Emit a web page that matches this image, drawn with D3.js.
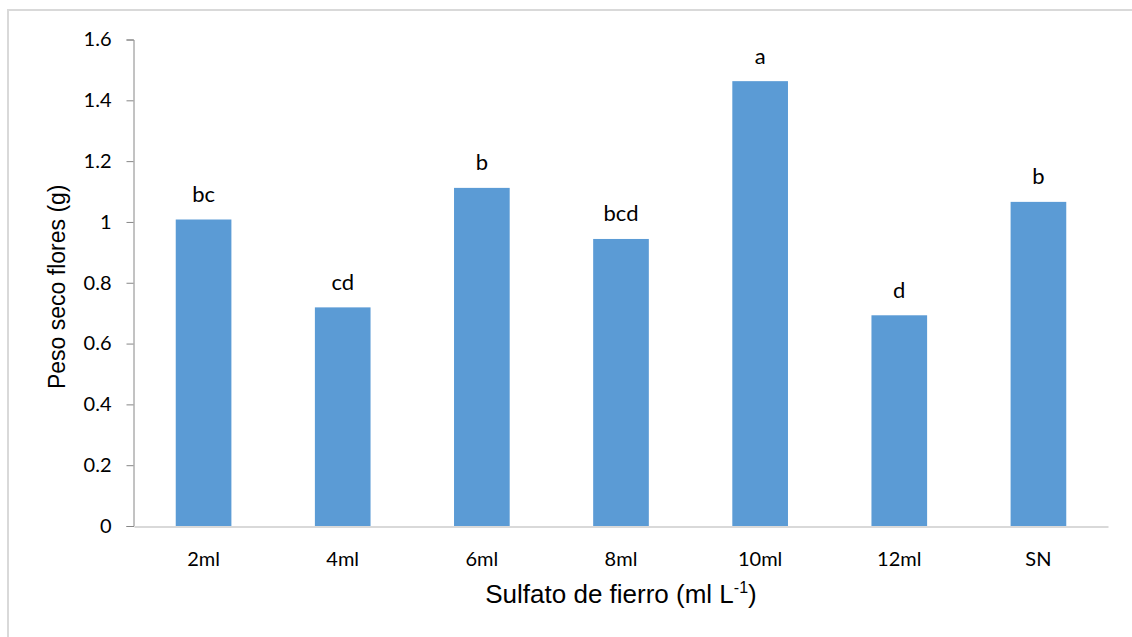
<!DOCTYPE html>
<html>
<head>
<meta charset="utf-8">
<script src="https://cdn.jsdelivr.net/npm/d3@7"></script>
<style>
  html, body { margin: 0; padding: 0; background: #fff; }
  svg { display: block; }
</style>
</head>
<body>
<svg id="chart" width="1132" height="637"></svg>
<script>
// Dry weight of flowers by iron sulfate dose
const categories = ["2ml", "4ml", "6ml", "8ml", "10ml", "12ml", "SN"];
const values = [1.008, 0.719, 1.112, 0.944, 1.463, 0.693, 1.066];
const letters = ["bc", "cd", "b", "bcd", "a", "d", "b"];
const yTicks = [0, 0.2, 0.4, 0.6, 0.8, 1, 1.2, 1.4, 1.6];

const svg = d3.select("#chart");
const W = 1132, H = 637;
const margin = { left: 134, right: 24, top: 39.5, bottom: 111 };

// outer frame
svg.append("rect")
  .attr("x", 8).attr("y", 10)
  .attr("width", W + 20).attr("height", H + 20)
  .attr("fill", "#fff").attr("stroke", "#d9d9d9").attr("stroke-width", 2);

const x = d3.scaleBand()
  .domain(categories)
  .range([margin.left, W - margin.right])
  .paddingInner(0.6).paddingOuter(0.3);

const y = d3.scaleLinear()
  .domain([0, 1.6])
  .range([H - margin.bottom, margin.top]);

const tickFont = "Lato, 'Open Sans', sans-serif";

// bars
svg.append("g").selectAll("rect")
  .data(values)
  .join("rect")
  .attr("x", (d, i) => x(categories[i]))
  .attr("y", d => y(d))
  .attr("width", x.bandwidth())
  .attr("height", d => y(0) - y(d))
  .attr("fill", "#5b9bd5");

// significance letters
svg.append("g").selectAll("text")
  .data(values)
  .join("text")
  .attr("x", (d, i) => x(categories[i]) + x.bandwidth() / 2)
  .attr("y", d => y(d) - 17.5)
  .attr("text-anchor", "middle")
  .attr("font-family", tickFont)
  .attr("font-size", 22)
  .attr("fill", "#000")
  .text((d, i) => letters[i]);

// y axis
const yAxis = svg.append("g")
  .attr("transform", `translate(${margin.left - 0.5},0)`)
  .call(d3.axisLeft(y).tickValues(yTicks).tickSize(7).tickPadding(15)
    .tickFormat(d => String(d)));
yAxis.select(".domain").attr("stroke", "#868686");
yAxis.selectAll(".tick line").attr("stroke", "#868686");
yAxis.selectAll("text")
  .attr("font-family", tickFont).attr("font-size", 20).attr("fill", "#000");

// x axis
const xAxis = svg.append("g")
  .attr("transform", `translate(0,${y(0) + 0.5})`)
  .call(d3.axisBottom(x).tickSize(0).tickPadding(25.5).tickSizeOuter(0));
xAxis.select(".domain").attr("stroke", "#d9d9d9").attr("stroke-width", 2);
xAxis.selectAll("text")
  .attr("font-family", tickFont).attr("font-size", 20).attr("fill", "#000");

// axis titles
svg.append("text")
  .attr("transform", `translate(65,${(margin.top + y(0)) / 2 + 4}) rotate(-90)`)
  .attr("text-anchor", "middle")
  .attr("font-family", "'Liberation Sans', Arial, sans-serif")
  .attr("font-size", 23)
  .attr("fill", "#000")
  .text("Peso seco flores (g)");

const xt = svg.append("text")
  .attr("x", 621).attr("y", 603)
  .attr("text-anchor", "middle")
  .attr("font-family", "'Liberation Sans', Arial, sans-serif")
  .attr("font-size", 26)
  .attr("fill", "#000");
xt.append("tspan").text("Sulfato de fierro (ml L");
xt.append("tspan").attr("dy", -10).attr("font-size", 16).text("-1");
xt.append("tspan").attr("dy", 10).text(")");
</script>
</body>
</html>
